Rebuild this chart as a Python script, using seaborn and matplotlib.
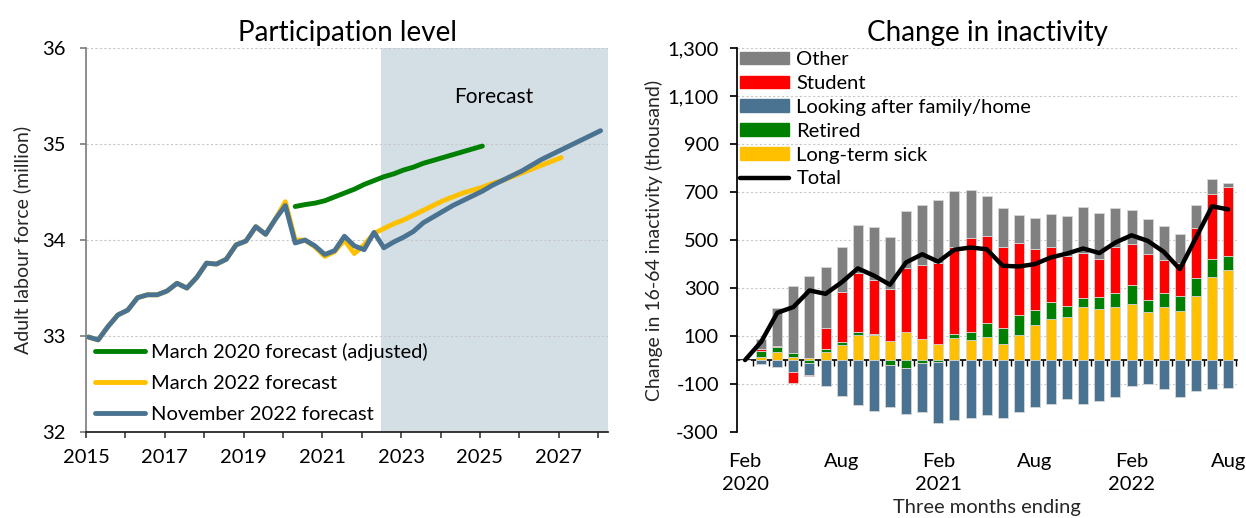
import numpy as np
import pandas as pd
import seaborn as sns
import matplotlib.pyplot as plt
from matplotlib.patches import Patch
from matplotlib.lines import Line2D
from matplotlib.ticker import FuncFormatter

# participation level (million), quarterly from 2015 Q1
nov22 = [32.99, 32.96, 33.10, 33.22, 33.27, 33.40, 33.43, 33.43, 33.47, 33.55,
         33.50, 33.61, 33.76, 33.75, 33.80, 33.95, 33.99, 34.14, 34.06, 34.22,
         34.36, 33.97, 34.00, 33.94, 33.85, 33.89, 34.04, 33.94, 33.90, 34.08,
         33.92, 33.98, 34.03, 34.09, 34.18, 34.24, 34.30, 34.36, 34.41, 34.46,
         34.51, 34.57, 34.62, 34.67, 34.72, 34.78, 34.84, 34.89, 34.94, 34.99,
         35.04, 35.09, 35.14]
mar22 = nov22[:20] + [34.40, 34.00, 34.00, 33.93, 33.83, 33.88, 34.00, 33.86, 33.95,
                      34.07, 34.12, 34.17, 34.21, 34.26, 34.31, 34.36, 34.41, 34.45,
                      34.49, 34.52, 34.55, 34.59, 34.62, 34.66, 34.70, 34.74, 34.78,
                      34.82, 34.86]
# starts 2020 Q2
mar20 = [34.35, 34.37, 34.385, 34.41, 34.45, 34.49, 34.53, 34.58, 34.62, 34.66,
         34.69, 34.73, 34.76, 34.80, 34.83, 34.86, 34.89, 34.92, 34.95, 34.98]
mar20_start = 21
forecast_start = 2022.5

# change in inactivity (thousand), three months ending Feb 2020 .. Aug 2022
months = pd.date_range("2020-02-01", "2022-08-01", freq="MS")
sick = [0, 11, 33, 12, 8, 34, 61, 105, 103, 79, 117, 88, 65, 92, 83, 97, 68, 105,
        148, 171, 178, 223, 212, 221, 234, 200, 223, 206, 269, 348, 375]
retired = [0, 26, 22, 17, -11, 10, 15, 12, 7, -22, -32, -11, -7, 18, 34, 58, 66, 81,
           61, 70, 47, 36, 51, 58, 77, 51, 55, 62, 74, 74, 57]
family = [0, -17, -28, -51, -51, -109, -148, -189, -211, -175, -193, -206, -257, -250,
          -243, -229, -243, -215, -194, -185, -163, -183, -171, -154, -108, -101, -119,
          -152, -130, -120, -116]
student = [0, 11, 3, -43, -4, 90, 207, 244, 225, 218, 265, 310, 338, 361, 390, 363,
           339, 303, 254, 230, 208, 189, 160, 194, 172, 189, 141, 137, 207, 270, 288]
other = [0, 39, 157, 281, 343, 254, 188, 203, 218, 217, 241, 250, 266, 233, 201, 166,
         159, 116, 130, 139, 167, 192, 189, 161, 141, 150, 141, 119, 95, 63, 18]
total = [0, 76, 197, 221, 290, 276, 324, 382, 352, 314, 407, 441, 410, 460, 469, 462,
         393, 390, 400, 428, 444, 465, 446, 490, 520, 497, 451, 379, 510, 641, 628]

sns.set_theme(style="ticks")
plt.rcParams['font.family'] = ['Lato', 'DejaVu Sans']
plt.rcParams['text.color'] = 'black'

GREEN, YELLOW, BLUE = '#008000', '#FFC000', '#4A7391'
GREY, RED = '#808080', '#FF0000'
FS = 14.5

fig = plt.figure(figsize=(12.46, 5.18), dpi=100)
ax1 = fig.add_axes([0.069, 0.166, 0.419, 0.741])
ax2 = fig.add_axes([0.5915, 0.166, 0.4013, 0.741])

# ---- left panel
def qx(n, start=0):
    return [2015.06 + (start + i) / 4 for i in range(n)]

lines = pd.concat([
    pd.DataFrame({'year': qx(len(mar20), mar20_start), 'value': mar20,
                  'series': 'March 2020 forecast (adjusted)'}),
    pd.DataFrame({'year': qx(len(mar22)), 'value': mar22, 'series': 'March 2022 forecast'}),
    pd.DataFrame({'year': qx(len(nov22)), 'value': nov22, 'series': 'November 2022 forecast'}),
])
ax1.axvspan(forecast_start, 2028.25, color='#D3DEE5', lw=0, zorder=0)
sns.lineplot(data=lines, x='year', y='value', hue='series', sort=False,
             palette=[GREEN, YELLOW, BLUE], lw=3.5, ax=ax1,
             solid_capstyle='round', solid_joinstyle='round')
ax1.set_xlim(2015, 2028.25)
ax1.set_ylim(32, 36)
ax1.set_yticks([32, 33, 34, 35, 36])
ax1.set_xticks(range(2015, 2029))
ax1.set_xticklabels([str(y) if (y - 2015) % 2 == 0 else '' for y in range(2015, 2029)])
ax1.grid(axis='y', color='#c8c8c8', ls=(0, (2, 2)), lw=0.8)
ax1.set_axisbelow(True)
ax1.set_xlabel('')
ax1.set_ylabel('Adult labour force (million)', fontsize=14, labelpad=8)
ax1.set_title('Participation level', fontsize=20, pad=5)
ax1.text(2025.36, 35.49, 'Forecast', fontsize=15, ha='center', va='center')
ax1.tick_params(labelsize=FS, colors='black')
ax1.tick_params(axis='y', color='#808080', length=4.5, pad=10)
ax1.tick_params(axis='x', color='#404040', length=4, pad=8)
for s in ['top', 'right']:
    ax1.spines[s].set_visible(False)
ax1.spines['left'].set_color('#808080')
ax1.spines['bottom'].set_color('#202020')
ax1.legend(frameon=False, loc='lower left', fontsize=FS, handlelength=2.5,
           labelspacing=0.7, borderaxespad=0.25, handletextpad=0.3, borderpad=0.2)

# ---- right panel
x = np.arange(len(months))
pos_bottom = np.zeros(len(x))
neg_bottom = np.zeros(len(x))
for vals, col in [(sick, YELLOW), (retired, GREEN), (family, BLUE), (student, RED), (other, GREY)]:
    v = np.array(vals, dtype=float)
    bottom = np.where(v >= 0, pos_bottom, neg_bottom)
    ax2.bar(x, v, bottom=bottom, width=0.62, color=col, edgecolor='#d6d6d6', lw=0.6, zorder=2)
    pos_bottom += np.where(v >= 0, v, 0)
    neg_bottom += np.where(v < 0, v, 0)
sns.lineplot(x=x, y=total, color='black', lw=3.2, ax=ax2, zorder=4,
             solid_capstyle='round', solid_joinstyle='round')

ax2.set_xlim(-0.5, 30.55)
ax2.set_ylim(-300, 1300)
ax2.set_yticks(range(-300, 1301, 200))
ax2.yaxis.set_major_formatter(FuncFormatter(lambda v, p: f"{v:,.0f}"))
ax2.grid(axis='y', color='#c8c8c8', ls=(0, (2, 2)), lw=0.8)
ax2.set_axisbelow(True)
ticks = list(range(0, 31, 6))
labels = []
for i in ticks:
    m = months[i]
    labels.append(m.strftime('%b') + ('\n' + m.strftime('%Y') if m.month == 2 else ''))
ax2.set_xticks(ticks)
ax2.set_xticklabels(labels, linespacing=1.45)
ax2.tick_params(axis='x', length=0, pad=15)
ax2.tick_params(labelsize=FS, colors='black')
ax2.tick_params(axis='y', color='black', length=5, pad=8)
ax2.set_xlabel('Three months ending', fontsize=FS, labelpad=4)
ax2.set_ylabel('Change in 16-64 inactivity (thousand)', fontsize=14, labelpad=3)
ax2.set_title('Change in inactivity', fontsize=20, pad=5)
for s in ['top', 'right', 'bottom']:
    ax2.spines[s].set_visible(False)
ax2.spines['left'].set_color('black')

zero = ax2.secondary_xaxis(300 / 1600)
zero.set_xticks(np.arange(0.5, 31, 1))
zero.tick_params(length=4, labelbottom=False, color='black', width=1)
zero.spines['bottom'].set_color('black')
zero.spines['bottom'].set_linewidth(1.2)

handles = [Patch(color=GREY), Patch(color=RED), Patch(color=BLUE), Patch(color=GREEN),
           Patch(color=YELLOW), Line2D([], [], color='black', lw=3.2, solid_capstyle='round')]
names = ['Other', 'Student', 'Looking after family/home', 'Retired', 'Long-term sick', 'Total']
ax2.legend(handles, names, frameon=False, loc='upper left', fontsize=FS,
           handlelength=2.45, handleheight=0.6, labelspacing=0.34, handletextpad=0.35,
           borderaxespad=0.05, borderpad=0.1)

fig.savefig('out.png', dpi=100)
